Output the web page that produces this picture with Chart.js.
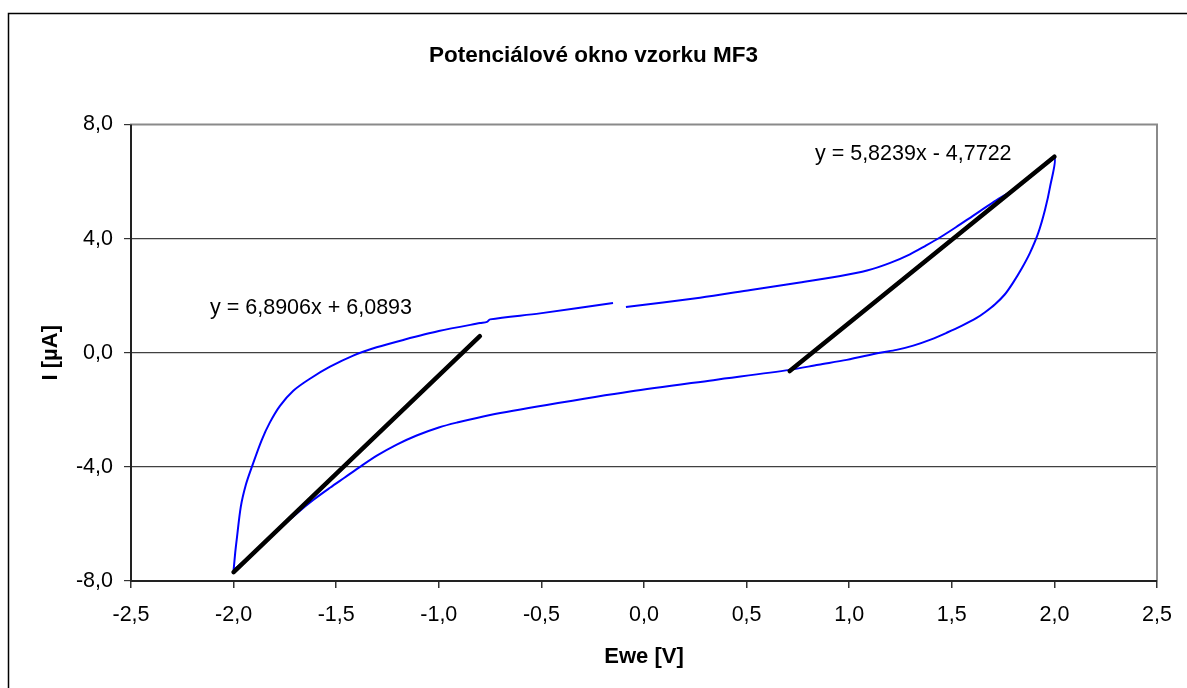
<!DOCTYPE html>
<html lang="cs">
<head>
<meta charset="UTF-8">
<title>Potenciálové okno vzorku MF3</title>
<script src="https://cdn.jsdelivr.net/npm/chart.js"></script>
<style>
  * { margin: 0; padding: 0; }
  body { background: #fff; font-family: Arial, "Liberation Sans", sans-serif; }
  .wrap { width: 1187px; height: 688px; position: relative; }
</style>
</head>
<body>
<div class="wrap"><canvas id="cv"></canvas></div>
<script>
  // ==== data ====
  // cyclic voltammogram, forward sweep -2 V -> 2 V, then back; null = break in the record
  var eweForward = [-2.00, -1.992, -1.985, -1.965, -1.940, -1.912, -1.863, -1.823, -1.774, -1.709,
    -1.628, -1.530, -1.417, -1.303, -1.173, -1.000, -0.799, -0.765, -0.750, -0.507, -0.151, null,
    -0.088, 0.273, 0.52, 0.760, 0.95, 1.087, 1.20, 1.296, 1.372, 1.442, 1.52, 1.603, 1.701,
    1.80, 1.90, 2.00];
  var iForward = [-7.62, -7.00, -6.56, -5.40, -4.62, -4.02, -3.06, -2.44, -1.86, -1.33,
    -0.91, -0.49, -0.10, 0.19, 0.45, 0.76, 1.04, 1.08, 1.17, 1.38, 1.74, null,
    1.60, 1.93, 2.20, 2.46, 2.68, 2.88, 3.15, 3.45, 3.75, 4.04, 4.40, 4.80, 5.27,
    5.72, 6.28, 6.85];
  var eweBack = [1.979, 1.954, 1.921, 1.881, 1.842, 1.798, 1.759, 1.711, 1.662, 1.621, 1.550,
    1.475, 1.40, 1.312, 1.230, 1.150, 0.988, 0.85, 0.711, 0.338, -0.068, -0.474, -0.750,
    -0.913, -1.000, -1.108, -1.205, -1.300, -1.380, -1.460, -1.530, -1.612, -1.692,
    -1.80, -1.90, -2.00];
  var iBack = [5.82, 5.00, 4.19, 3.50, 2.97, 2.45, 2.05, 1.70, 1.42, 1.22, 0.95,
    0.70, 0.47, 0.25, 0.10, 0.00, -0.25, -0.42, -0.60, -0.96, -1.36, -1.83, -2.18,
    -2.45, -2.62, -2.90, -3.22, -3.60, -3.98, -4.38, -4.73, -5.16, -5.63,
    -6.31, -7.00, -7.62];

  // linear trendlines (end points)
  var trend1X = [-2.00, -0.80];
  var trend1Y = [-7.69, 0.58];
  var trend2X = [0.71, 2.00];
  var trend2Y = [-0.64, 6.87];
  var trendLabels = ['y = 6,8906x + 6,0893', 'y = 5,8239x - 4,7722'];
  var trendLabelX = [-2.115, 0.833];
  var trendLabelY = [1.57, 6.97];

  var xTicks = [-2.5, 2.5, 0.5];   // min, max, step
  var yTicks = [-8, 8, 4];

  function pts(xs, ys) {
    var out = [];
    for (var i = 0; i < xs.length; i++) {
      out.push(xs[i] === null ? { x: null, y: null } : { x: xs[i], y: ys[i] });
    }
    return out;
  }
  var cvPoints = pts(eweForward.concat(eweBack), iForward.concat(iBack));

  function fmt(v) { return Number(v).toFixed(1).replace('.', ','); }

  // frame of plot area + outer chart border
  var framePlugin = {
    id: 'frame',
    beforeDatasetsDraw: function (chart) {
      var a = chart.chartArea, c = chart.ctx;
      c.save();
      c.strokeStyle = '#8a8a8a';
      c.lineWidth = 2;
      c.strokeRect(a.left, a.top, a.right - a.left, a.bottom - a.top);
      c.strokeStyle = '#222';
      c.beginPath();
      c.moveTo(a.left, a.top);
      c.lineTo(a.left, a.bottom);
      c.lineTo(a.right, a.bottom);
      c.stroke();
      c.restore();
    },
    afterDraw: function (chart) {
      var c = chart.ctx;
      c.save();
      c.strokeStyle = '#000';
      c.lineWidth = 1.5;
      c.strokeRect(8.5, 13.5, 1400, 1000);
      c.restore();
    }
  };

  var labelPlugin = {
    id: 'trendLabels',
    afterDatasetsDraw: function (chart) {
      var c = chart.ctx, sx = chart.scales.x, sy = chart.scales.y;
      c.save();
      c.fillStyle = '#000';
      c.font = '21.5px Arial, "Liberation Sans", sans-serif';
      c.textAlign = 'left';
      c.textBaseline = 'middle';
      for (var i = 0; i < trendLabels.length; i++) {
        c.fillText(trendLabels[i], sx.getPixelForValue(trendLabelX[i]), sy.getPixelForValue(trendLabelY[i]));
      }
      c.restore();
    }
  };

  var tickFont = { family: 'Arial, "Liberation Sans", sans-serif', size: 21.5 };
  var titleFont = { family: 'Arial, "Liberation Sans", sans-serif', size: 22, weight: 'bold' };

  new Chart(document.getElementById('cv'), {
    type: 'scatter',
    data: {
      datasets: [
        {
          label: 'trend 1',
          data: pts(trend1X, trend1Y),
          showLine: true,
          borderColor: '#000',
          borderWidth: 4.5,
          borderCapStyle: 'round',
          pointRadius: 0
        },
        {
          label: 'trend 2',
          data: pts(trend2X, trend2Y),
          showLine: true,
          borderColor: '#000',
          borderWidth: 4.5,
          borderCapStyle: 'round',
          pointRadius: 0
        },
        {
          label: 'CV',
          data: cvPoints,
          showLine: true,
          spanGaps: false,
          borderColor: '#0000ff',
          borderWidth: 2,
          tension: 0.3,
          pointRadius: 0
        }
      ]
    },
    options: {
      responsive: true,
      maintainAspectRatio: false,
      animation: false,
      layout: { padding: { left: 30, right: 30, top: 0, bottom: 0 } },
      plugins: {
        legend: { display: false },
        tooltip: { enabled: false },
        title: {
          display: true,
          text: 'Potenciálové okno vzorku MF3',
          color: '#000',
          font: { family: 'Arial, "Liberation Sans", sans-serif', size: 22.5, weight: 'bold' },
          padding: { top: 42.5, bottom: 55 }
        }
      },
      scales: {
        x: {
          type: 'linear',
          min: xTicks[0],
          max: xTicks[1],
          afterFit: function (s) { s.height = 107; },
          border: { display: false },
          grid: { color: 'rgba(0,0,0,0)', tickColor: '#333', tickLength: 7, lineWidth: 1.5 },
          ticks: { stepSize: xTicks[2], color: '#000', font: tickFont, padding: 14, callback: fmt },
          title: { display: true, text: 'Ewe [V]', color: '#000', font: titleFont, padding: { bottom: 17.8 } }
        },
        y: {
          type: 'linear',
          min: yTicks[0],
          max: yTicks[1],
          afterFit: function (s) { s.width = 101; },
          border: { display: false },
          grid: {
            color: function (ctx) {
              var v = ctx.tick ? ctx.tick.value : 0;
              return (v === yTicks[0] || v === yTicks[1]) ? 'rgba(0,0,0,0)' : '#404040';
            },
            tickColor: '#333',
            tickLength: 7,
            lineWidth: 1.2
          },
          ticks: { stepSize: yTicks[2], color: '#000', font: tickFont, padding: 11, callback: fmt },
          title: { display: true, text: 'I [µA]', color: '#000', font: titleFont, padding: { top: 7.8 } }
        }
      }
    },
    plugins: [framePlugin, labelPlugin]
  });
</script>
</body>
</html>
